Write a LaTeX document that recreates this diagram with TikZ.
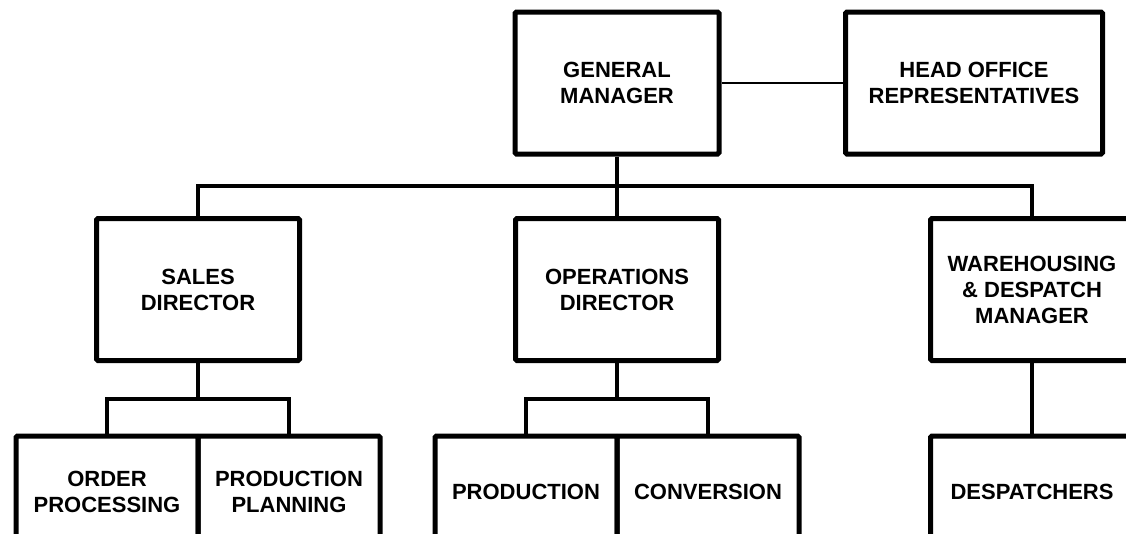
\documentclass[tikz,border=0pt]{standalone}
\usepackage{fontspec}
\setmainfont{Liberation Sans}
\tikzset{
  post/.style = {draw,line width=5pt,rounded corners=1.5pt,align=center,inner sep=2pt,
    font=\fontsize{22}{26}\selectfont\bfseries,
    minimum width=203pt,minimum height=142pt},
  subpost/.style = {post,minimum width=182pt,minimum height=112pt},
  link/.style = {line width=3.8pt},
  thinlink/.style = {line width=1.5pt}
}

\begin{document}
\begin{tikzpicture}[x=1pt,y=-1pt]
  \clip (0,0) rectangle (1126,533);
  % top row
  \node[post,minimum width=204pt] (gm) at (617,83) {GENERAL\\MANAGER};
  \node[post,minimum width=257pt] (ho) at (974,83) {HEAD OFFICE\\REPRESENTATIVES};
  \draw[thinlink] (gm.east) -- (ho.west);
  % directors
  \node[post] (sales) at (198,289.5) {SALES\\DIRECTOR};
  \node[post] (ops) at (617,289.5) {OPERATIONS\\DIRECTOR};
  \node[post] (whm) at (1032,289.5) {WAREHOUSING\\\& DESPATCH\\MANAGER};
  \coordinate (bus) at (617,186);
  \draw[link] (gm.south) -- (ops.north);
  \draw[link] (sales.north) |- (bus) -| (whm.north);
  % sections
  \node[subpost] (order) at (107,492) {ORDER\\PROCESSING};
  \node[subpost] (plan) at (289,492) {PRODUCTION\\PLANNING};
  \node[subpost] (prod) at (526,492) {PRODUCTION};
  \node[subpost] (conv) at (708,492) {CONVERSION};
  \node[subpost,minimum width=203pt] (desp) at (1032,492) {DESPATCHERS};
  \coordinate (sbus) at (198,399);
  \coordinate (obus) at (617,399);
  \draw[link] (sales.south) -- (sbus);
  \draw[link] (order.north) |- (sbus) -| (plan.north);
  \draw[link] (ops.south) -- (obus);
  \draw[link] (prod.north) |- (obus) -| (conv.north);
  \draw[link] (whm.south) -- (desp.north);
\end{tikzpicture}
\end{document}
